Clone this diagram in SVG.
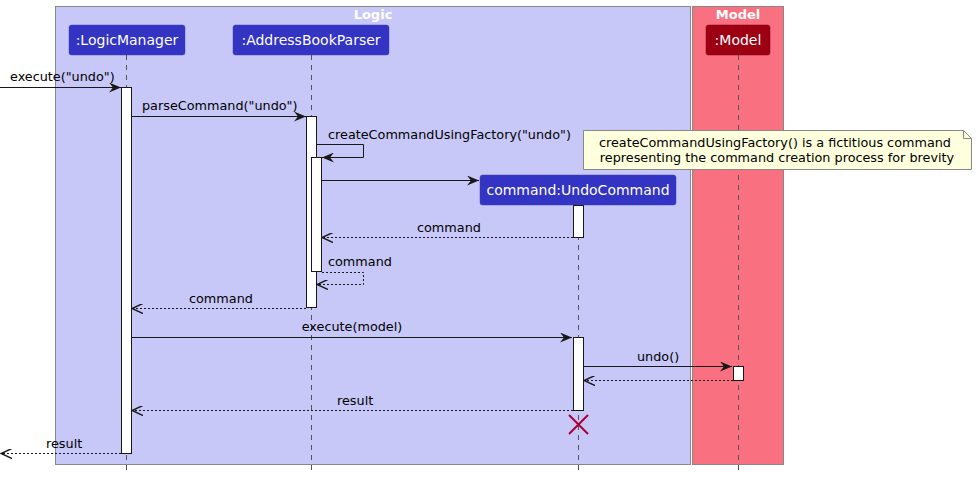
<svg xmlns="http://www.w3.org/2000/svg" width="976" height="477" viewBox="0 0 976 477">
<defs>
<style>
text{font-family:"DejaVu Sans","Liberation Sans",sans-serif;font-size:12.8px;fill:#000}
.pt{fill:#fff;font-size:14px;text-anchor:middle}
.bt{fill:#fff;font-weight:bold;font-size:13px;text-anchor:middle}
.life{stroke:#555;stroke-width:1;stroke-dasharray:5,5}
.act{fill:#fff;stroke:#181818;stroke-width:1}
.msg{stroke:#181818;stroke-width:1;fill:none}
.ret{stroke:#181818;stroke-width:1;fill:none;stroke-dasharray:2,2}
.part{fill:#3333C4;stroke:#4444aa;stroke-width:0.5}
</style>
<marker id="ah" viewBox="0 0 12 10" refX="12" refY="5" markerWidth="12" markerHeight="10" orient="auto" markerUnits="userSpaceOnUse">
<path d="M0,0 L12,5 L0,10 L4,5 Z" fill="#181818"/>
</marker>
<marker id="oh" viewBox="0 0 12 10" refX="11" refY="5" markerWidth="12" markerHeight="10" orient="auto" markerUnits="userSpaceOnUse">
<path d="M0,0 L11,5 L0,10" fill="none" stroke="#181818" stroke-width="1.5"/>
</marker>
</defs>
<rect width="976" height="477" fill="#fff"/>
<g id="box-logic">
<rect x="55.5" y="6.5" width="635" height="458" fill="#C8C8F8" stroke="#888" stroke-width="1"/>
<text class="bt" x="373" y="19">Logic</text>
</g>
<g id="box-model">
<rect x="692.5" y="6.5" width="91" height="458" fill="#F97181" stroke="#888" stroke-width="1"/>
<text class="bt" x="738" y="19">Model</text>
</g>
<g id="lifelines">
<line class="life" x1="126.5" y1="55" x2="126.5" y2="471"/>
<line class="life" x1="311.5" y1="55" x2="311.5" y2="471"/>
<line class="life" x1="578.5" y1="205" x2="578.5" y2="471"/>
<line class="life" x1="738.5" y1="55" x2="738.5" y2="471"/>
</g>
<g id="LogicManager">
<rect class="part" x="69" y="25" width="116" height="30" rx="2.5"/>
<text class="pt" x="127" y="45">:LogicManager</text>
<rect class="act" x="121.5" y="87.5" width="10" height="366"/>
</g>
<g id="AddressBookParser">
<rect class="part" x="233" y="25" width="156" height="30" rx="2.5"/>
<text class="pt" x="311" y="45">:AddressBookParser</text>
<rect class="act" x="306.5" y="116.5" width="10" height="191"/>
<rect class="act" x="311.5" y="157.5" width="10" height="114"/>
</g>
<g id="UndoCommand">
<rect class="part" x="480" y="175" width="196" height="30" rx="2.5"/>
<text class="pt" x="578" y="195">command:UndoCommand</text>
<rect class="act" x="573.5" y="205.5" width="10" height="32"/>
<rect class="act" x="573.5" y="337.5" width="10" height="73"/>
<path d="M569,415 L588,434 M588,415 L569,434" stroke="#A80036" stroke-width="2"/>
</g>
<g id="Model">
<rect x="706" y="25" width="64" height="30" rx="2.5" fill="#9D0012" stroke="#7a0010" stroke-width="0.5"/>
<text class="pt" x="738" y="45">:Model</text>
<rect class="act" x="733.5" y="366.5" width="10" height="14"/>
</g>
<g id="note">
<path d="M583.5,130.5 L963.5,130.5 L971.5,138.5 L971.5,169.5 L583.5,169.5 Z" fill="#FEFFDD" stroke="#888" stroke-width="1"/>
<path d="M963.5,130.5 L963.5,138.5 L971.5,138.5" fill="none" stroke="#888" stroke-width="1"/>
<text x="775" y="147" text-anchor="middle">createCommandUsingFactory() is a fictitious command</text>
<text x="777" y="162" text-anchor="middle">representing the command creation process for brevity</text>
</g>
<g id="connectors">
<line class="msg" x1="0" y1="87.5" x2="121" y2="87.5" marker-end="url(#ah)"/>
<text x="10" y="81">execute("undo")</text>
<line class="msg" x1="132" y1="116.5" x2="306" y2="116.5" marker-end="url(#ah)"/>
<text x="142" y="110">parseCommand("undo")</text>
<polyline class="msg" points="317,144.5 363.5,144.5 363.5,157.5 322,157.5" marker-end="url(#ah)"/>
<text x="328" y="139">createCommandUsingFactory("undo")</text>
<line class="msg" x1="322" y1="180.5" x2="479" y2="180.5" marker-end="url(#ah)"/>
<line class="ret" x1="573" y1="237.5" x2="322" y2="237.5" marker-end="url(#oh)"/>
<text x="417" y="232">command</text>
<polyline class="ret" points="322,272.5 363.5,272.5 363.5,284.5 317,284.5" marker-end="url(#oh)"/>
<text x="328" y="266">command</text>
<line class="ret" x1="306" y1="308.5" x2="132" y2="308.5" marker-end="url(#oh)"/>
<text x="189" y="303">command</text>
<line class="msg" x1="132" y1="337.5" x2="572" y2="337.5" marker-end="url(#ah)"/>
<text x="352" y="331" text-anchor="middle">execute(model)</text>
<line class="msg" x1="584" y1="366.5" x2="732" y2="366.5" marker-end="url(#ah)"/>
<text x="637" y="361">undo()</text>
<line class="ret" x1="733" y1="380.5" x2="584" y2="380.5" marker-end="url(#oh)"/>
<line class="ret" x1="573" y1="410.5" x2="132" y2="410.5" marker-end="url(#oh)"/>
<text x="337" y="405">result</text>
<line class="ret" x1="121" y1="453.5" x2="1" y2="453.5" marker-end="url(#oh)"/>
<text x="46" y="448">result</text>
</g>
</svg>
